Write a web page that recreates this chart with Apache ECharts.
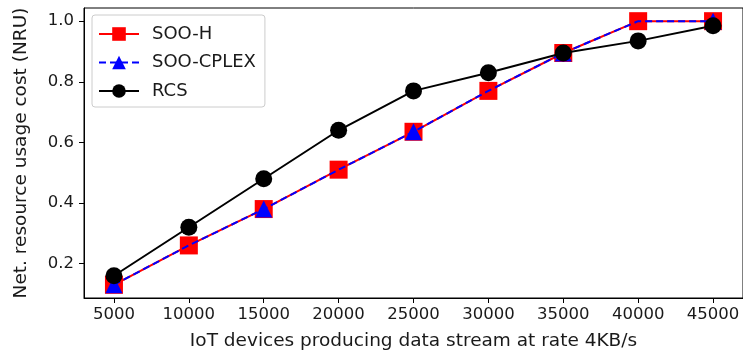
<!DOCTYPE html>
<html>
<head>
<meta charset="utf-8">
<script src="https://cdn.jsdelivr.net/npm/echarts@6/dist/echarts.min.js"></script>
<style>
  html, body { margin: 0; padding: 0; background: #fff; }
  #chart { width: 743px; height: 358px; }
</style>
</head>
<body>
<div id="chart"></div>
<script>
// x values: IoT devices
var devices = [5000, 10000, 15000, 20000, 25000, 30000, 35000, 40000, 45000];
var sooH = [0.13, 0.26, 0.38, 0.51, 0.635, 0.77, 0.895, 1.0, 1.0];
var sooCplex = [0.13, 0.26, 0.38, 0.51, 0.635, 0.77, 0.895, 1.0, 1.0];
var rcs = [0.16, 0.32, 0.48, 0.64, 0.77, 0.83, 0.895, 0.935, 0.985];
var yTicks = [0.2, 0.4, 0.6, 0.8, 1.0];

function pairs(ys) {
  return devices.map(function (x, i) { return [x, ys[i]]; });
}
// triangles only on every second point (markevery=2 look)
function pairsEvery2(ys) {
  return devices.map(function (x, i) {
    return i % 2 === 0 ? [x, ys[i]] : { value: [x, ys[i]], symbol: 'none' };
  });
}

var font = 'DejaVu Sans';
var txt = '#1a1a1a';
var chart = echarts.init(document.getElementById('chart'));

var option = {
  backgroundColor: '#ffffff',
  animation: false,
  textStyle: { fontFamily: font },
  grid: {
    left: 84, right: 0, top: 8, bottom: 60,
    show: true, borderColor: '#000', borderWidth: 1,
    containLabel: false,
    outerBoundsMode: 'none'
  },
  legend: {
    left: 92, top: 15,
    orient: 'vertical',
    itemWidth: 40, itemHeight: 17, itemGap: 10.5,
    padding: [10, 9, 7, 6],
    borderColor: '#cccccc', borderWidth: 1, borderRadius: 3,
    backgroundColor: 'rgba(255,255,255,0.8)',
    textStyle: { fontFamily: font, fontSize: 18, color: txt, padding: [0, 0, 0, 8] },
    data: ['SOO-H', 'SOO-CPLEX', 'RCS']
  },
  xAxis: {
    type: 'value',
    min: 3000, max: 47000,
    name: 'IoT devices producing data stream at rate 4KB/s',
    nameLocation: 'middle', nameGap: 34,
    nameTextStyle: { fontFamily: font, fontSize: 18.5, color: txt },
    axisLine: { show: true, lineStyle: { color: '#000', width: 1 } },
    axisTick: { show: true, length: 5, customValues: devices, lineStyle: { color: '#000' } },
    axisLabel: {
      fontFamily: font, fontSize: 16.5, color: txt, margin: 8, customValues: devices,
      formatter: function (v) { return String(v); }
    },
    splitLine: { show: false }
  },
  yAxis: {
    type: 'value',
    min: 0.0865, max: 1.0435,
    name: 'Net. resource usage cost (NRU)',
    nameLocation: 'middle', nameGap: 53,
    nameTextStyle: { fontFamily: font, fontSize: 18.5, color: txt },
    axisLine: { show: true, lineStyle: { color: '#000', width: 1 } },
    axisTick: { show: true, length: 5, customValues: yTicks, lineStyle: { color: '#000' } },
    axisLabel: {
      fontFamily: font, fontSize: 16.5, color: txt, margin: 10, customValues: yTicks,
      formatter: function (v) { return v.toFixed(1); }
    },
    splitLine: { show: false }
  },
  series: [
    {
      name: 'SOO-H', type: 'line', data: pairs(sooH),
      symbol: 'rect', symbolSize: 18,
      itemStyle: { color: '#ff0000' },
      lineStyle: { color: '#ff0000', width: 2 },
      z: 2
    },
    {
      name: 'SOO-CPLEX', type: 'line', data: pairsEvery2(sooCplex),
      symbol: 'triangle', symbolSize: 17,
      itemStyle: { color: '#0000ff' },
      lineStyle: { color: '#0000ff', width: 2, type: [7, 4] },
      z: 3
    },
    {
      name: 'RCS', type: 'line', data: pairs(rcs),
      symbol: 'circle', symbolSize: 17,
      itemStyle: { color: '#000000' },
      lineStyle: { color: '#000000', width: 2 },
      z: 4
    }
  ]
};
chart.setOption(option);
</script>
</body>
</html>
